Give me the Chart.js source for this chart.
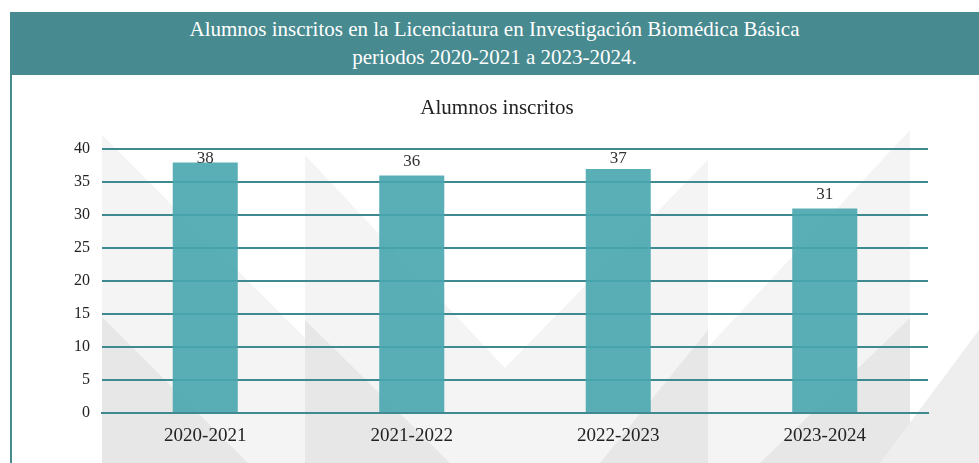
<!DOCTYPE html>
<html lang="es">
<head>
<meta charset="utf-8">
<title>Alumnos inscritos</title>
<script src="https://cdn.jsdelivr.net/npm/chart.js@4/dist/chart.umd.min.js"></script>
<style>
    html, body { margin: 0; padding: 0; background: #ffffff; }
    #wrap { position: relative; width: 979px; height: 463px; overflow: hidden; }
    #chart { position: absolute; left: 0; top: 0; }
    #header {
        position: absolute; left: 10px; top: 12px; width: 969px; height: 63px;
        background: #478a8f; color: #ffffff; text-align: center;
        font-family: "Liberation Serif", "DejaVu Serif", serif; font-size: 21px; line-height: 28px;
        padding-top: 3px; box-sizing: border-box;
    }
    #leftLine { position: absolute; left: 10px; top: 75px; width: 2px; height: 388px; background: #478a8f; }
</style>
</head>
<body>
<div id="wrap">
    <canvas id="chart" width="979" height="463"></canvas>
    <div id="header">Alumnos inscritos en la Licenciatura en Investigación Biomédica Básica<br>periodos 2020-2021 a 2023-2024.</div>
    <div id="leftLine"></div>
</div>
<script>
// Chart data
const periods = ['2020-2021', '2021-2022', '2022-2023', '2023-2024'];
const enrolled = [38, 36, 37, 31];
const yTicks = [0, 5, 10, 15, 20, 25, 30, 35, 40];

const TEAL_LINE = '#3f8a8f';
const SERIF = '"Liberation Serif", "DejaVu Serif", serif';

// Decorative grey triangles behind the plot
const backdrop = {
    id: 'backdrop',
    beforeDraw(chart) {
        const ctx = chart.ctx;
        const shapes = [
            { color: '#f4f4f4', pts: [[102, 135], [102, 463], [430, 463]] },
            { color: '#f4f4f4', pts: [[305, 155], [505, 368], [708, 160], [708, 463], [305, 463]] },
            { color: '#f4f4f4', pts: [[910, 130], [910, 463], [600, 463]] },
            { color: '#f4f4f4', pts: [[708, 160], [708, 463], [560, 463], [505, 368]] },
            { color: '#e7e7e7', pts: [[102, 317], [102, 463], [248, 463]] },
            { color: '#e7e7e7', pts: [[305, 320], [305, 463], [450, 463]] },
            { color: '#e7e7e7', pts: [[708, 330], [708, 463], [600, 463]] },
            { color: '#e7e7e7', pts: [[910, 318], [910, 463], [760, 463]] },
            { color: '#eeeeee', pts: [[979, 330], [979, 463], [880, 463]] }
        ];
        ctx.save();
        shapes.forEach(s => {
            ctx.fillStyle = s.color;
            ctx.beginPath();
            s.pts.forEach((p, i) => i ? ctx.lineTo(p[0], p[1]) : ctx.moveTo(p[0], p[1]));
            ctx.closePath();
            ctx.fill();
        });
        ctx.restore();
    }
};

// Value labels above each bar
const valueLabels = {
    id: 'valueLabels',
    afterDatasetsDraw(chart) {
        const ctx = chart.ctx;
        const meta = chart.getDatasetMeta(0);
        ctx.save();
        ctx.font = '17px ' + SERIF;
        ctx.fillStyle = '#333333';
        ctx.textAlign = 'center';
        ctx.textBaseline = 'middle';
        meta.data.forEach((bar, i) => {
            const y = Math.max(bar.y - 14, chart.chartArea.top + 9);
            ctx.fillText(String(enrolled[i]), bar.x, y);
        });
        ctx.restore();
    }
};

new Chart(document.getElementById('chart').getContext('2d'), {
    type: 'bar',
    data: {
        labels: periods,
        datasets: [{
            label: 'Alumnos inscritos',
            data: enrolled,
            backgroundColor: 'rgba(72, 166, 175, 0.9)',
            borderWidth: 0,
            barPercentage: 0.63,
            categoryPercentage: 0.5
        }]
    },
    options: {
        responsive: false,
        animation: false,
        layout: { padding: { top: 88, right: 51, left: 66, bottom: 0 } },
        plugins: {
            legend: { display: false },
            tooltip: { enabled: false },
            title: {
                display: true,
                text: 'Alumnos inscritos',
                color: '#222222',
                font: { family: SERIF, size: 21, weight: 'normal' },
                padding: { top: 8, bottom: 28 }
            }
        },
        scales: {
            x: {
                grid: { display: false, drawTicks: false },
                border: { display: true, color: TEAL_LINE, width: 2 },
                ticks: { color: '#222222', font: { family: SERIF, size: 19 }, padding: 12 },
                afterFit(scale) { scale.height = 50; }
            },
            y: {
                min: 0,
                max: 40,
                afterBuildTicks(scale) { scale.ticks = yTicks.map(v => ({ value: v })); },
                grid: { color: TEAL_LINE, lineWidth: 2, drawTicks: false },
                border: { display: false },
                ticks: { color: '#222222', font: { family: SERIF, size: 16 }, padding: 12 },
                afterFit(scale) { scale.width = 36; }
            }
        }
    },
    plugins: [backdrop, valueLabels]
});
</script>
</body>
</html>
